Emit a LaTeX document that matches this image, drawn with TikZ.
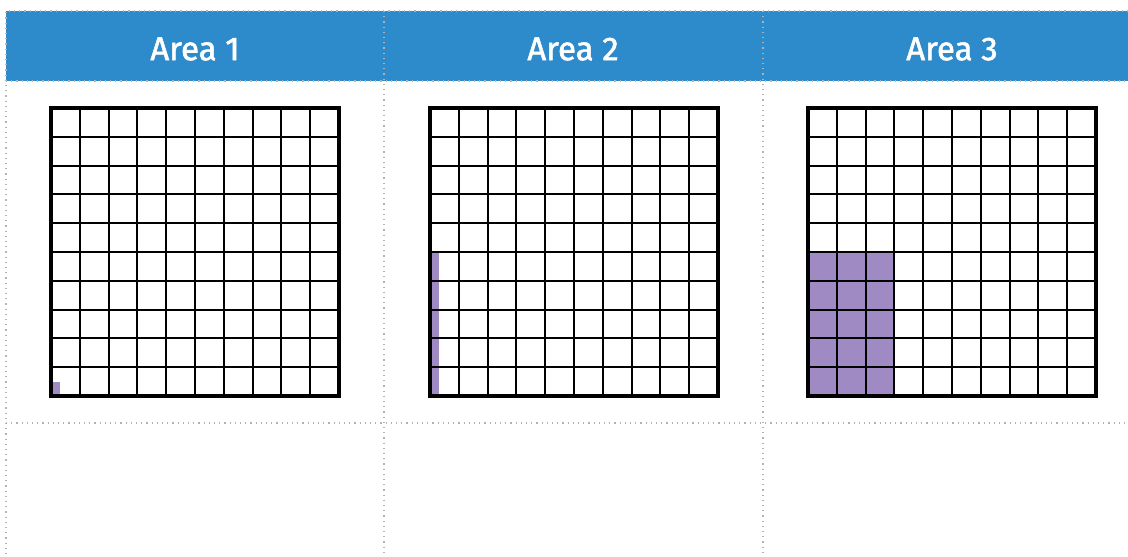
\documentclass[tikz,border=0pt]{standalone}
\usepackage{fontspec}
\setmainfont{Fira Sans}
\newfontfamily\headfont[FakeBold=1.6]{Fira Sans}
\usetikzlibrary{positioning}
\definecolor{Headcol}{HTML}{2E8BCB}
\definecolor{Shadecol}{HTML}{A08AC4}
\colorlet{Rulecol}{black!30}
\def\cell{28.8}

\begin{document}
\begin{tikzpicture}[x=0.5pt, y=-0.5pt,
    rule/.style={dotted, line width=0.6pt, Rulecol},
    head/.style={text=white, font=\fontsize{16.5}{19}\headfont},
    gridline/.style={line width=1pt, black},
    gridframe/.style={line width=1.8pt, black}]
  \useasboundingbox (0,0) rectangle (1128,556);

  % header band
  \fill[Headcol] (6,11) rectangle (1128,81);

  % table rules
  \draw[rule] (1128,11) -- (6,11) -- (6,556);
  \draw[rule] (6,81) -- (1128,81);
  \draw[rule] (6,423) -- (1128,423);
  \draw[rule] (384,11) -- (384,556);
  \draw[rule] (763,11) -- (763,556);

  \node[head] (h1) at (195,49) {Area 1};
  \node[head] (h2) at (573,49) {Area 2};
  \node[head] (h3) at (952,49) {Area 3};

  % area 1
  \begin{scope}[shift={(51,108)}]
    \fill[Shadecol] (0,{9.5*\cell}) rectangle ({0.3*\cell},{10*\cell});
    \foreach \i in {1,...,9} {
      \draw[gridline] ({\i*\cell},0) -- ({\i*\cell},{10*\cell});
      \draw[gridline] (0,{\i*\cell}) -- ({10*\cell},{\i*\cell});
    }
    \draw[gridframe] (0,0) rectangle ({10*\cell},{10*\cell});
  \end{scope}

  % area 2
  \begin{scope}[shift={(430,108)}]
    \fill[Shadecol] (0,{5*\cell}) rectangle ({0.3*\cell},{10*\cell});
    \foreach \i in {1,...,9} {
      \draw[gridline] ({\i*\cell},0) -- ({\i*\cell},{10*\cell});
      \draw[gridline] (0,{\i*\cell}) -- ({10*\cell},{\i*\cell});
    }
    \draw[gridframe] (0,0) rectangle ({10*\cell},{10*\cell});
  \end{scope}

  % area 3
  \begin{scope}[shift={(808,108)}]
    \fill[Shadecol] (0,{5*\cell}) rectangle ({3*\cell},{10*\cell});
    \foreach \i in {1,...,9} {
      \draw[gridline] ({\i*\cell},0) -- ({\i*\cell},{10*\cell});
      \draw[gridline] (0,{\i*\cell}) -- ({10*\cell},{\i*\cell});
    }
    \draw[gridframe] (0,0) rectangle ({10*\cell},{10*\cell});
  \end{scope}
\end{tikzpicture}
\end{document}
